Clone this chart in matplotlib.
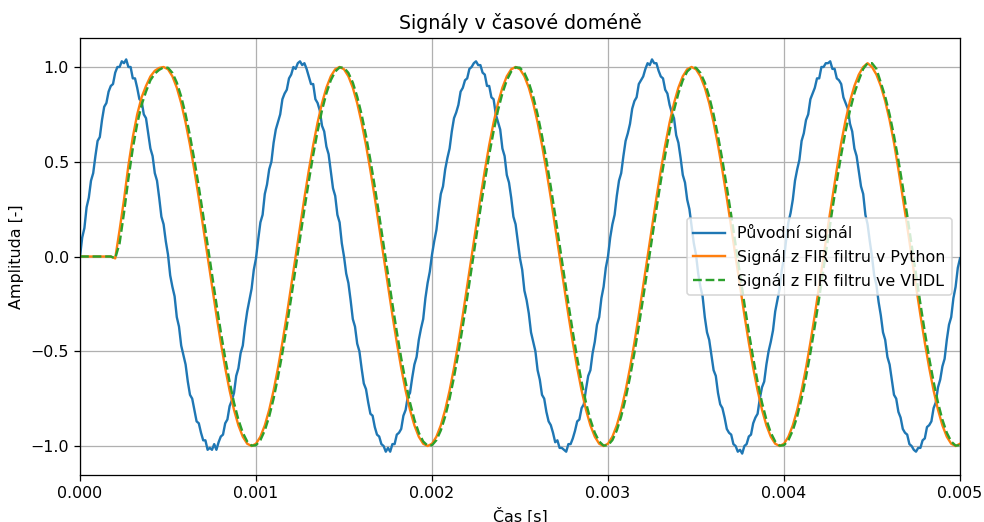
import numpy as np
import matplotlib
matplotlib.use("Agg")
import matplotlib.pyplot as plt

fs_orig = 80000  # sample rate of the original signal [Hz]
fs_fir = 40000   # sample rate used for the filtered curves [Hz]

# Original noisy signal, 0 .. 5 ms
puvodni = [
    # 0.0 - 0.5 ms
    0.00, 0.10, 0.15, 0.26, 0.31, 0.40, 0.44, 0.53, 0.61, 0.63,
    0.72, 0.79, 0.81, 0.87, 0.90, 0.91, 0.97, 1.00, 1.00, 1.03,
    1.02, 1.04, 1.00, 1.00, 0.94, 0.94, 0.89, 0.83, 0.82, 0.75,
    0.73, 0.65, 0.57, 0.53, 0.44, 0.40, 0.31, 0.21, 0.17, 0.08,
    # 0.5 - 1.0 ms
    0.01, -0.10, -0.16, -0.21, -0.32, -0.37, -0.47, -0.52, -0.57, -0.66,
    -0.73, -0.75, -0.81, -0.87, -0.88, -0.93, -0.97, -0.97, -1.02, -1.01,
    -1.02, -0.99, -1.02, -0.98, -0.95, -0.94, -0.88, -0.86, -0.79, -0.76,
    -0.72, -0.63, -0.59, -0.51, -0.47, -0.37, -0.29, -0.23, -0.17, -0.07,
    # 1.0 - 1.5 ms
    -0.01, 0.09, 0.18, 0.22, 0.33, 0.38, 0.46, 0.50, 0.60, 0.67,
    0.71, 0.75, 0.83, 0.86, 0.88, 0.94, 0.96, 1.00, 0.99, 1.02,
    1.03, 1.01, 1.02, 0.99, 0.95, 0.91, 0.91, 0.83, 0.81, 0.77,
    0.69, 0.66, 0.58, 0.54, 0.45, 0.36, 0.32, 0.22, 0.18, 0.07,
    # 1.5 - 2.0 ms
    0.00, -0.09, -0.14, -0.23, -0.33, -0.37, -0.46, -0.50, -0.59, -0.67,
    -0.70, -0.77, -0.83, -0.84, -0.90, -0.94, -0.95, -0.99, -1.00, -1.03,
    -1.01, -1.03, -0.99, -0.99, -0.94, -0.93, -0.91, -0.84, -0.81, -0.74,
    -0.72, -0.64, -0.57, -0.53, -0.44, -0.38, -0.33, -0.22, -0.14, -0.08,
    # 2.0 - 2.5 ms
    0.01, 0.08, 0.14, 0.24, 0.33, 0.37, 0.46, 0.52, 0.57, 0.66,
    0.73, 0.76, 0.80, 0.87, 0.89, 0.93, 0.94, 0.99, 1.00, 1.02,
    1.03, 1.01, 1.01, 0.97, 0.96, 0.90, 0.90, 0.84, 0.83, 0.75,
    0.71, 0.67, 0.57, 0.53, 0.43, 0.39, 0.31, 0.21, 0.17, 0.08,
    # 2.5 - 3.0 ms
    -0.01, -0.07, -0.18, -0.23, -0.30, -0.40, -0.45, -0.50, -0.60, -0.65,
    -0.73, -0.75, -0.82, -0.87, -0.89, -0.93, -0.98, -0.97, -1.01, -1.01,
    -1.02, -1.03, -0.99, -0.99, -0.96, -0.92, -0.87, -0.86, -0.80, -0.78,
    -0.70, -0.63, -0.60, -0.51, -0.45, -0.36, -0.32, -0.22, -0.16, -0.06,
    # 3.0 - 3.5 ms
    0.00, 0.10, 0.17, 0.22, 0.32, 0.40, 0.44, 0.53, 0.61, 0.65,
    0.70, 0.78, 0.82, 0.84, 0.91, 0.93, 0.95, 0.99, 1.02, 1.01,
    1.04, 1.02, 1.02, 0.98, 0.95, 0.94, 0.88, 0.86, 0.80, 0.76,
    0.73, 0.64, 0.60, 0.52, 0.43, 0.39, 0.30, 0.25, 0.16, 0.07,
    # 3.5 - 4.0 ms
    0.01, -0.09, -0.16, -0.21, -0.32, -0.40, -0.44, -0.52, -0.60, -0.63,
    -0.72, -0.78, -0.80, -0.85, -0.91, -0.93, -0.94, -0.99, -1.00, -1.03,
    -1.02, -1.04, -1.00, -0.99, -0.95, -0.94, -0.88, -0.85, -0.83, -0.75,
    -0.69, -0.66, -0.57, -0.50, -0.45, -0.39, -0.29, -0.23, -0.17, -0.07,
    # 4.0 - 4.5 ms
    -0.01, 0.09, 0.18, 0.23, 0.30, 0.40, 0.46, 0.51, 0.61, 0.65,
    0.72, 0.75, 0.83, 0.86, 0.89, 0.94, 0.94, 1.00, 1.00, 1.02,
    1.02, 1.03, 0.99, 0.99, 0.94, 0.93, 0.91, 0.84, 0.81, 0.78,
    0.70, 0.66, 0.57, 0.53, 0.45, 0.37, 0.33, 0.22, 0.17, 0.08,
    # 4.5 - 5.0 ms
    0.00, -0.10, -0.15, -0.24, -0.31, -0.40, -0.44, -0.53, -0.57, -0.65,
    -0.73, -0.75, -0.82, -0.85, -0.91, -0.93, -0.94, -0.99, -1.00, -1.02,
    -1.03, -1.01, -1.01, -0.97, -0.96, -0.90, -0.89, -0.87, -0.80, -0.77,
    -0.69, -0.65, -0.58, -0.54, -0.44, -0.36, -0.32, -0.22, -0.16, -0.06,
    -0.01,
]

# FIR output (Python)
fir_python = [
    0.0, 0.0, 0.0, 0.0, 0.0, 0.0, 0.0, 0.0, -0.01, 0.14,
    0.30, 0.48, 0.63, 0.75, 0.84, 0.90, 0.95, 0.98, 0.995, 1.00,
    0.988, 0.951, 0.891, 0.809, 0.707, 0.588, 0.454, 0.309, 0.156,
    0.0, -0.156, -0.309, -0.454, -0.588, -0.707, -0.809, -0.891, -0.951, -0.988,
    -1.0, -0.988, -0.951, -0.891, -0.809, -0.707, -0.588, -0.454, -0.309, -0.156,
    0.0, 0.156, 0.309, 0.454, 0.588, 0.707, 0.809, 0.891, 0.951, 0.988,
    1.0, 0.988, 0.951, 0.891, 0.809, 0.707, 0.588, 0.454, 0.309, 0.156,
    0.0, -0.156, -0.309, -0.454, -0.588, -0.707, -0.809, -0.891, -0.951, -0.988,
    -1.0, -0.988, -0.951, -0.891, -0.809, -0.707, -0.588, -0.454, -0.309, -0.156,
    0.0, 0.156, 0.309, 0.454, 0.588, 0.707, 0.809, 0.891, 0.951, 0.988,
    1.0, 0.988, 0.951, 0.891, 0.809, 0.707, 0.588, 0.454, 0.309, 0.156,
    0.0, -0.156, -0.309, -0.454, -0.588, -0.707, -0.809, -0.891, -0.951, -0.988,
    -1.0, -0.988, -0.951, -0.891, -0.809, -0.707, -0.588, -0.454, -0.309, -0.156,
    0.0, 0.156, 0.309, 0.454, 0.588, 0.707, 0.809, 0.891, 0.951, 0.988,
    1.0, 0.988, 0.951, 0.891, 0.809, 0.707, 0.588, 0.454, 0.309, 0.156,
    0.0, -0.156, -0.309, -0.454, -0.588, -0.707, -0.809, -0.891, -0.951, -0.988,
    -1.0, -0.988, -0.951, -0.891, -0.809, -0.707, -0.588, -0.454, -0.309, -0.156,
    0.0, 0.16, 0.31, 0.46, 0.60, 0.72, 0.82, 0.90, 0.96, 1.00,
    1.02, 1.00, 0.96, 0.90, 0.82, 0.72, 0.60, 0.46, 0.31, 0.16,
    0.0, -0.156, -0.309, -0.454, -0.588, -0.707, -0.809, -0.891, -0.951, -0.988,
    -1.0, -0.988,
]

# FIR output (VHDL)
fir_vhdl = [
    0.0, 0.0, 0.0, 0.0, 0.0, 0.0, 0.0, 0.0, -0.01, 0.07,
    0.23, 0.41, 0.57, 0.70, 0.80, 0.87, 0.93, 0.965, 0.985, 0.998,
    0.996, 0.969, 0.918, 0.844, 0.750, 0.637, 0.509, 0.368, 0.218,
    0.063, -0.094, -0.249, -0.397, -0.536, -0.661, -0.771, -0.861, -0.930, -0.976,
    -0.998, -0.996, -0.969, -0.918, -0.844, -0.750, -0.637, -0.509, -0.368, -0.218,
    -0.063, 0.094, 0.249, 0.397, 0.536, 0.661, 0.771, 0.861, 0.930, 0.976,
    0.998, 0.996, 0.969, 0.918, 0.844, 0.750, 0.637, 0.509, 0.368, 0.218,
    0.063, -0.094, -0.249, -0.397, -0.536, -0.661, -0.771, -0.861, -0.930, -0.976,
    -0.998, -0.996, -0.969, -0.918, -0.844, -0.750, -0.637, -0.509, -0.368, -0.218,
    -0.063, 0.094, 0.249, 0.397, 0.536, 0.661, 0.771, 0.861, 0.930, 0.976,
    0.998, 0.996, 0.969, 0.918, 0.844, 0.750, 0.637, 0.509, 0.368, 0.218,
    0.063, -0.094, -0.249, -0.397, -0.536, -0.661, -0.771, -0.861, -0.930, -0.976,
    -0.998, -0.996, -0.969, -0.918, -0.844, -0.750, -0.637, -0.509, -0.368, -0.218,
    -0.063, 0.094, 0.249, 0.397, 0.536, 0.661, 0.771, 0.861, 0.930, 0.976,
    0.998, 0.996, 0.969, 0.918, 0.844, 0.750, 0.637, 0.509, 0.368, 0.218,
    0.063, -0.094, -0.249, -0.397, -0.536, -0.661, -0.771, -0.861, -0.930, -0.976,
    -0.998, -0.996, -0.969, -0.918, -0.844, -0.750, -0.637, -0.509, -0.368, -0.218,
    -0.063, 0.094, 0.249, 0.397, 0.536, 0.661, 0.771, 0.861, 0.930, 0.99,
    1.02, 1.02, 0.99, 0.918, 0.844, 0.750, 0.637, 0.509, 0.368, 0.218,
    0.063, -0.094, -0.249, -0.397, -0.536, -0.661, -0.771, -0.861, -0.930, -0.976,
    -0.998, -0.996,
]

x_ticks = [0.000, 0.001, 0.002, 0.003, 0.004, 0.005]
x_tick_labels = ["0.000", "0.001", "0.002", "0.003", "0.004", "0.005"]
y_ticks = [-1.0, -0.5, 0.0, 0.5, 1.0]

t_orig = np.arange(len(puvodni)) / fs_orig
t_fir = np.arange(len(fir_python)) / fs_fir

DPI = 114
fig = plt.figure(figsize=(984 / DPI, 522 / DPI), dpi=DPI)
ax = fig.add_axes([80 / 984, 47 / 522, 880 / 984, 437 / 522])

ax.plot(t_orig, puvodni, color="#1f77b4", lw=1.5, label="Původní signál")
ax.plot(t_fir, fir_python, color="#ff7f0e", lw=1.5, label="Signál z FIR filtru v Python")
ax.plot(t_fir, fir_vhdl, color="#2ca02c", lw=1.5, ls="--", label="Signál z FIR filtru ve VHDL")

ax.set_xlim(0, 0.005)
ax.set_ylim(-1.153, 1.153)
ax.set_xticks(x_ticks)
ax.set_xticklabels(x_tick_labels)
ax.set_yticks(y_ticks)
ax.grid(True)
ax.set_title("Signály v časové doméně")
ax.set_xlabel("Čas [s]")
ax.set_ylabel("Amplituda [-]")
ax.legend(loc="center right")

fig.savefig("out.png", dpi=DPI)
